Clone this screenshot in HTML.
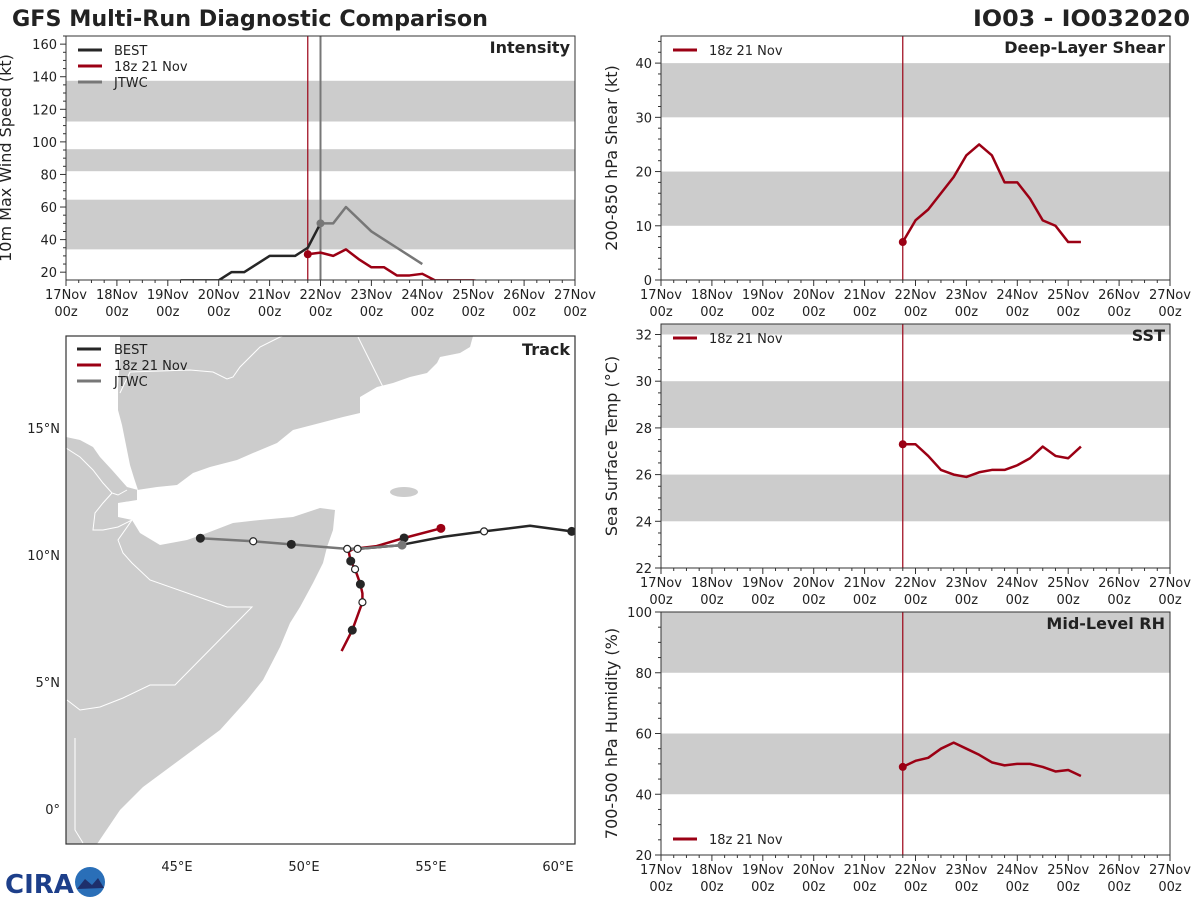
<!DOCTYPE html>
<html><head><meta charset="utf-8"><style>
body{margin:0;background:#fff;width:1200px;height:900px;overflow:hidden;font-family:"DejaVu Sans","Liberation Sans",sans-serif}
svg text{font-family:"DejaVu Sans","Liberation Sans",sans-serif;fill:#222}
</style></head><body>
<svg id="s" width="1200" height="900" xmlns="http://www.w3.org/2000/svg">
<text x="12" y="26" font-size="22" font-weight="bold" textLength="476" lengthAdjust="spacingAndGlyphs">GFS Multi-Run Diagnostic Comparison</text>
<text x="973" y="26" font-size="22" font-weight="bold" textLength="217" lengthAdjust="spacingAndGlyphs">IO03 - IO032020</text>
<g>
<text x="5" y="893" font-size="26" font-weight="bold" style="fill:#1d3f8a">CIRA</text>
<circle cx="90" cy="882" r="15" fill="#2a6fb8"/>
<path d="M77,889 L85,879 L92,885 L98,878 L104,888 Z" fill="#1e2f6b"/>
</g>
</svg>
<script>
const NS='http://www.w3.org/2000/svg';
const S=document.getElementById('s');
function mk(tag,at,par){const e=document.createElementNS(NS,tag);for(const k in at)e.setAttribute(k,at[k]);(par||S).appendChild(e);return e;}
const RED='#9b0014',BLK='#262626',GRY='#777777',BAND='#cccccc';

// ---- data ----
const dayTicks=['17Nov','18Nov','19Nov','20Nov','21Nov','22Nov','23Nov','24Nov','25Nov','26Nov','27Nov'];
const initDay=4.75;
const bestDays=[2.25,2.5,2.75,3.0,3.25,3.5,3.75,4.0,4.25,4.5,4.75,5.0];
const bestWind=[15,15,15,15,20,20,25,30,30,30,35,50];
const jtwcDays=[5.0,5.25,5.5,6.0,6.5,7.0];
const jtwcWind=[50,50,60,45,35,25];
const gfsDays=[4.75,5.0,5.25,5.5,5.75,6.0,6.25,6.5,6.75,7.0,7.25,7.5,7.75,8.0,8.25];
const gfsWind=[31,32,30,34,28,23,23,18,18,19,15,15,15,15,14];
const gfsShear=[7,11,13,16,19,23,25,23,18,18,15,11,10,7,7];
const gfsSST=[27.3,27.3,26.8,26.2,26.0,25.9,26.1,26.2,26.2,26.4,26.7,27.2,26.8,26.7,27.2];
const gfsRH=[49,51,52,55,57,55,53,50.5,49.5,50,50,49,47.5,48,46];
const bestLon=[60.54,58.9,57.09,55.5,53.94,53.86,52.11,51.7];
const bestLat=[10.93,11.15,10.93,10.72,10.42,10.39,10.24,10.24];
const jtwcLon=[53.86,52.11,51.7,49.5,48.0,45.92];
const jtwcLat=[10.39,10.24,10.24,10.42,10.54,10.66];
const jtwcMark=['g','w','w','b','w','b'];
const gfsLon=[55.39,53.94,52.86,51.94,51.76,51.84,52.01,52.22,52.3,52.3,51.9,51.48];
const gfsLat=[11.05,10.67,10.35,10.24,10.13,9.76,9.44,8.85,8.49,8.14,7.04,6.22];
const gfsMark=['r','b','','','','b','w','b','','w','b',''];
const bestMark=['b','','w','','','','',''];

function panel(o){
  const g=mk('g',{});
  
  
  const X=d=>o.x0+(o.x1-o.x0)*d/10;
  const Y=v=>o.y1-(o.y1-o.y0)*(v-o.vmin)/(o.vmax-o.vmin);
  const cid='c'+o.name;
  const cp=mk('clipPath',{id:cid},g);mk('rect',{x:o.x0,y:o.y0,width:o.x1-o.x0,height:o.y1-o.y0},cp);
  const inner=mk('g',{'clip-path':`url(#${cid})`},g);
  o.bands.forEach(b=>{const r=mk('rect',{x:o.x0,y:Y(b[1]),width:o.x1-o.x0,height:Y(b[0])-Y(b[1]),fill:BAND},inner);
    });
  o.vlines.forEach(v=>{const l=mk('line',{x1:X(v[0]),x2:X(v[0]),y1:o.y0,y2:o.y1,stroke:v[1],'stroke-width':v[2]},inner);
    });
  o.series.forEach(s=>{
    const p=mk('polyline',{points:s.d.map((d,i)=>X(d)+','+Y(s.v[i])).join(' '),fill:'none',stroke:s.c,'stroke-width':2.5,'stroke-linejoin':'round'},inner);
    
    if(s.dot){const c=mk('circle',{cx:X(s.d[s.dot-1]),cy:Y(s.v[s.dot-1]),r:4,fill:s.c},inner);
      }
  });
  mk('rect',{x:o.x0,y:o.y0,width:o.x1-o.x0,height:o.y1-o.y0,fill:'none',stroke:'#333','stroke-width':1},g);
  for(let i=0;i<=40;i++){const x=X(i/4);mk('line',{x1:x,x2:x,y1:o.y1,y2:o.y1+(i%4?3:6),stroke:'#333'},g);}
  dayTicks.forEach((t,i)=>{
    const a=mk('text',{x:X(i),y:o.y1+19,'font-size':13,'text-anchor':'middle'},g);a.textContent=t;
    
    const b=mk('text',{x:X(i),y:o.y1+36,'font-size':13,'text-anchor':'middle'},g);b.textContent='00z';
    
  });
  for(let v=o.ymin0;v<=o.vmax+1e-9;v+=o.minor){ if(v<o.vmin-1e-9)continue;const y=Y(v);
    const maj=Math.abs((v-o.ymaj0)/o.major-Math.round((v-o.ymaj0)/o.major))<1e-6;
    mk('line',{x1:o.x0,x2:o.x0-(maj?6:3),y1:y,y2:y,stroke:'#333'},g);
    if(maj){const t=mk('text',{x:o.x0-9,y:y+5,'font-size':13,'text-anchor':'end'},g);t.textContent=o.fmt?o.fmt(v):v;
      }
  }
  const yl=mk('text',{x:0,y:0,'font-size':16,'text-anchor':'middle',transform:`translate(${o.x0-o.lo},${(o.y0+o.y1)/2}) rotate(-90)`},g);
  yl.textContent=o.ylabel;
  const tt=mk('text',{x:o.x1-5,y:o.y0+17,'font-size':16,'font-weight':'bold','text-anchor':'end'},g);
  tt.textContent=o.title;
  o.legend.forEach((L,i)=>{const y=o.ly+i*16;
    mk('line',{x1:o.x0+12,x2:o.x0+36,y1:y,y2:y,stroke:L[1],'stroke-width':3},g);
    const t=mk('text',{x:o.x0+48,y:y+5,'font-size':13},g);t.textContent=L[0];
    });
}
const LEG3=[['BEST',BLK],['18z 21 Nov',RED],['JTWC',GRY]];
panel({name:'intensity-panel',x0:66,x1:575,y0:36,y1:280,vmin:15.2,vmax:165,bands:[[34,64.5],[82,95.5],[112.5,137.5]],
 vlines:[[initDay,RED,1.2],[5.0,GRY,2]],series:[{n:'best-intensity',d:bestDays,v:bestWind,c:BLK},{n:'jtwc-intensity',d:jtwcDays,v:jtwcWind,c:GRY,dot:1},{n:'gfs-intensity',d:gfsDays,v:gfsWind,c:RED,dot:1}],
 ymin0:20,ymaj0:20,major:20,minor:5,ylabel:'10m Max Wind Speed (kt)',title:'Intensity',legend:LEG3,ly:50,lo:55});
panel({name:'shear-panel',x0:661,x1:1170,y0:36,y1:280,vmin:0,vmax:45,bands:[[10,20],[30,40]],vlines:[[initDay,RED,1.2]],
 series:[{n:'gfs-shear',d:gfsDays,v:gfsShear,c:RED,dot:1}],ymin0:0,ymaj0:0,major:10,minor:2,ylabel:'200-850 hPa Shear (kt)',title:'Deep-Layer Shear',legend:[['18z 21 Nov',RED]],ly:50,lo:44});
panel({name:'sst-panel',x0:661,x1:1170,y0:324,y1:568,vmin:22,vmax:32.45,bands:[[24,26],[28,30],[32,34]],vlines:[[initDay,RED,1.2]],
 series:[{n:'gfs-sst',d:gfsDays,v:gfsSST,c:RED,dot:1}],ymin0:22,ymaj0:22,major:2,minor:0.5,ylabel:'Sea Surface Temp (°C)',title:'SST',legend:[['18z 21 Nov',RED]],ly:338,lo:44});
panel({name:'rh-panel',x0:661,x1:1170,y0:612,y1:855,vmin:20,vmax:100,bands:[[40,60],[80,100]],vlines:[[initDay,RED,1.2]],
 series:[{n:'gfs-rh',d:gfsDays,v:gfsRH,c:RED,dot:1}],ymin0:20,ymaj0:20,major:20,minor:5,ylabel:'700-500 hPa Humidity (%)',title:'Mid-Level RH',legend:[['18z 21 Nov',RED]],ly:839,lo:44});

// ---- track map ----
(function(){
 const x0=66,x1=575,y0=336,y1=844;
 const LX=l=>177+(l-45)*25.4, LY=l=>809-l*25.4;
 const g=mk('g',{});
 const cp=mk('clipPath',{id:'ctrack'},g);mk('rect',{x:x0,y:y0,width:x1-x0,height:y1-y0},cp);
 const m=mk('g',{'clip-path':'url(#ctrack)'},g);
 const land=mk('rect',{x:x0,y:y0,width:x1-x0,height:y1-y0,fill:BAND},m);
 
 const sea=mk('polygon',{fill:'#fff',points:'473,336 575,336 575,844 97,844 120,810 143,787 170,767 193,750 220,730 247,700 263,680 280,647 290,623 300,607 313,583 323,563 327,547 333,530 335,510 320,508 293,517 260,520 233,523 207,533 187,540 160,545 140,533 132,520 118,517 118,503 137,500 137,490 157,487 177,485 193,473 210,467 237,460 253,453 277,443 293,430 320,423 343,417 360,413 360,397 377,387 393,383 410,377 427,373 437,363 440,357 460,353 470,347'},m);
 
 const rs=mk('polygon',{fill:'#fff',points:'66,336 120,336 120,360 118,385 118,410 122,425 126,445 130,465 134,478 138,490 127,487 112,470 100,457 93,447 80,440 66,437'},m);
 
 const so=mk('ellipse',{cx:404,cy:492,rx:14,ry:5,fill:BAND},m);
 ['120,393 130,372 190,370 213,372 227,379 233,377 240,367 260,347 280,337 300,330','358,337 383,387','66,448 80,457 93,470 103,483 112,493 118,495 127,490','112,493 103,503 95,513 93,530 103,530 118,527 132,520','132,520 118,540 123,553 132,563 150,580 227,607 252,607 175,685 150,685 123,698 100,707 80,710 67,700','75,738 75,830 83,843'].forEach(p=>{
  const b=mk('polyline',{points:p,fill:'none',stroke:'#fff','stroke-width':1},m);});
 function trk(n,lon,lat,c,marks){
  const p=mk('polyline',{points:lon.map((l,i)=>LX(l)+','+LY(lat[i])).join(' '),fill:'none',stroke:c,'stroke-width':2.5,'stroke-linejoin':'round'},m);
  
  marks.forEach((k,i)=>{if(!k)return;const fill={b:BLK,w:'#fff',g:GRY,r:RED}[k];
   const c2=mk('circle',{cx:LX(lon[i]),cy:LY(lat[i]),r:k=='w'?3.5:4.5,fill:fill,stroke:k=='w'?BLK:'none','stroke-width':1.2},m);
   });
 }
 trk('gfs-track',gfsLon,gfsLat,RED,gfsMark);
 trk('best-track',bestLon,bestLat,BLK,bestMark);
 trk('jtwc-track',jtwcLon,jtwcLat,GRY,jtwcMark);
 mk('rect',{x:x0,y:y0,width:x1-x0,height:y1-y0,fill:'none',stroke:'#333','stroke-width':1.2},g);
 [45,50,55,60].forEach(l=>{const t=mk('text',{x:LX(l),y:y1+27,'font-size':13,'text-anchor':'middle'},g);t.textContent=l+'°E';
  });
 [[15,'15°N'],[10,'10°N'],[5,'5°N'],[0,'0°']].forEach(a=>{const t=mk('text',{x:x0-6,y:LY(a[0])+5,'font-size':13,'text-anchor':'end'},g);t.textContent=a[1];
  });
 const tt=mk('text',{x:x1-5,y:y0+19,'font-size':16,'font-weight':'bold','text-anchor':'end'},g);tt.textContent='Track';
 
 LEG3.forEach((L,i)=>{const y=349+i*16;mk('line',{x1:x0+11,x2:x0+35,y1:y,y2:y,stroke:L[1],'stroke-width':3},g);
  const t=mk('text',{x:x0+48,y:y+5,'font-size':13},g);t.textContent=L[0];
  });
})();
</script>
</body></html>
